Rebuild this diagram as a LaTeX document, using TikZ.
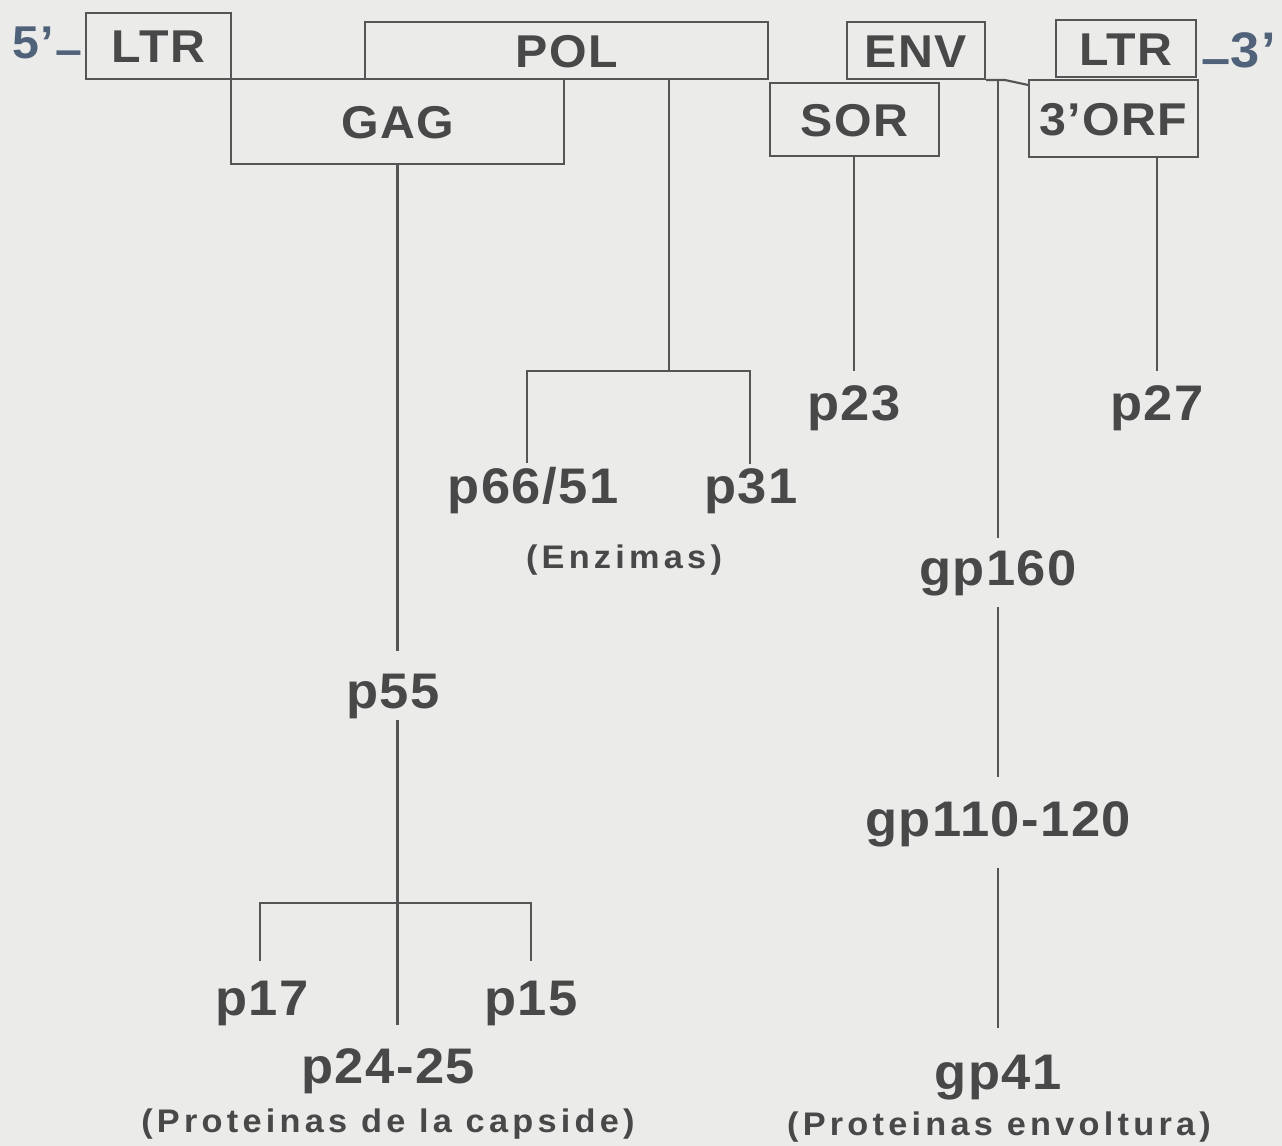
\documentclass[tikz,border=0pt]{standalone}
\usepackage{fontspec}
\setmainfont{Liberation Sans}[FakeStretch=1.05]
\newfontfamily\bigf{Liberation Sans}[FakeStretch=1.05,LetterSpace=3]
\newfontfamily\smallf{Liberation Sans}[FakeStretch=1.05,LetterSpace=13]
\usetikzlibrary{calc}
\definecolor{bgc}{RGB}{235,236,234}
\definecolor{textc}{RGB}{72,72,72}
\definecolor{linec}{RGB}{85,85,85}
\definecolor{endc}{RGB}{80,98,122}
\tikzset{
  genebox/.style={draw=linec, line width=1.6pt, inner sep=0pt, text=textc,
    font=\bigf\bfseries\fontsize{34.5}{36}\selectfont, text height=25pt, text depth=0pt},
  lab/.style={font=\bigf\bfseries\fontsize{37.5}{40}\selectfont, text=textc, anchor=base, inner sep=1pt},
  sublab/.style={font=\smallf\bfseries\fontsize{24.5}{26}\selectfont, text=textc, anchor=base, inner sep=1pt},
  endlab/.style={font=\bigf\bfseries\fontsize{34.5}{36}\selectfont, text=endc, anchor=base west, inner sep=0pt},
  conn/.style={draw=linec, line width=1.6pt}
}
\begin{document}
\begin{tikzpicture}[x=0.75pt,y=-0.75pt]
\fill[bgc] (0,0) rectangle (1282,1146);
\useasboundingbox (0,0) rectangle (1282,1146);

% gene boxes
\node[genebox, minimum width=108.75pt, minimum height=49.5pt] (LTRa) at (158.5,46) {LTR};
\node[genebox, minimum width=302.25pt, minimum height=42.75pt] (POL) at (566.5,50.5) {POL};
\node[genebox, minimum width=249.75pt, minimum height=63.75pt] (GAG) at (397.5,121.5) {GAG};
\node[genebox, minimum width=103.5pt, minimum height=42.75pt] (ENV) at (916,50.5) {ENV};
\node[genebox, minimum width=105pt, minimum height=42.75pt] (LTRb) at (1126,48.5) {LTR};
\node[genebox, minimum width=126.75pt, minimum height=54.75pt] (SOR) at (854.5,119.5) {SOR};
\node[genebox, minimum width=126.75pt, minimum height=57.75pt] (ORF) at (1113.5,118.5) {3’ORF};

% ends
\node[endlab] (five) at (12,58) {5’\hspace{1pt}\raisebox{-0.17em}{–}};
\node[endlab, font=\bigf\bfseries\fontsize{37.5}{40}\selectfont] (three) at (1201,67) {\raisebox{-0.17em}{–}3’};

% protein labels
\node[lab] (p6651) at (533,503) {p66/51};
\node[lab] (p31) at (751,503) {p31};
\node[sublab] (enz) at (624,568) {(Enzimas)};
\node[lab] (p23) at (854,420) {p23};
\node[lab] (p27) at (1157,420) {p27};
\node[lab] (gp160) at (998,585) {gp160};
\node[lab] (gp110) at (998,836) {gp110-120};
\node[lab] (gp41) at (998,1089) {gp41};
\node[sublab] (env) at (999,1135) {(Proteinas envoltura)};
\node[lab] (p55) at (393,708) {p55};
\node[lab] (p17) at (262,1015) {p17};
\node[lab] (p15) at (531,1015) {p15};
\node[lab] (p24) at (388,1083) {p24-25};
\node[sublab] (caps) at (388,1132) {(Proteinas de la capside)};

% junction coordinates
\coordinate (jn) at (1005,80);
\coordinate (gptop) at (998,80);
\coordinate (polbr) at (669,371);
\coordinate (enzL) at (527,371);
\coordinate (enzR) at (750,371);
\coordinate (capL) at (260,903);
\coordinate (capR) at (531,903);

% ENV to 3'ORF connector
\draw[conn] (ENV.south east) -- (jn) -- ($(ORF.north west)+(0,6)$);

% GAG branch
\draw[conn, shorten >=16pt] (GAG.south) -- (GAG.south |- p55.north);
\draw[conn, shorten >=16pt] (GAG.south |- p55.south) -- (GAG.south |- p24.north);
\draw[conn, shorten <=13.5pt, shorten >=13.5pt] (capL |- p17.north) -- (capL) -- (capR) -- (capR |- p15.north);

% POL branch
\draw[conn] (POL.south -| polbr) -- (polbr);
\draw[conn, shorten <=1.5pt, shorten >=1.5pt] (enzL |- p6651.north) -- (enzL) -- (enzR) -- (enzR |- p31.north);

% SOR and 3'ORF
\draw[conn, shorten >=9pt] (SOR.south -| p23) -- (p23.north);
\draw[conn, shorten >=9pt] (ORF.south -| p27) -- (p27.north);

% ENV products
\draw[conn, shorten >=8pt] (gptop) -- (gptop |- gp160.north);
\draw[conn, shorten <=7.5pt, shorten >=17pt] (gp160.south) -- (gp110.north);
\draw[conn, shorten <=15pt, shorten >=19pt] (gp110.south) -- (gp41.north);
\end{tikzpicture}
\end{document}
